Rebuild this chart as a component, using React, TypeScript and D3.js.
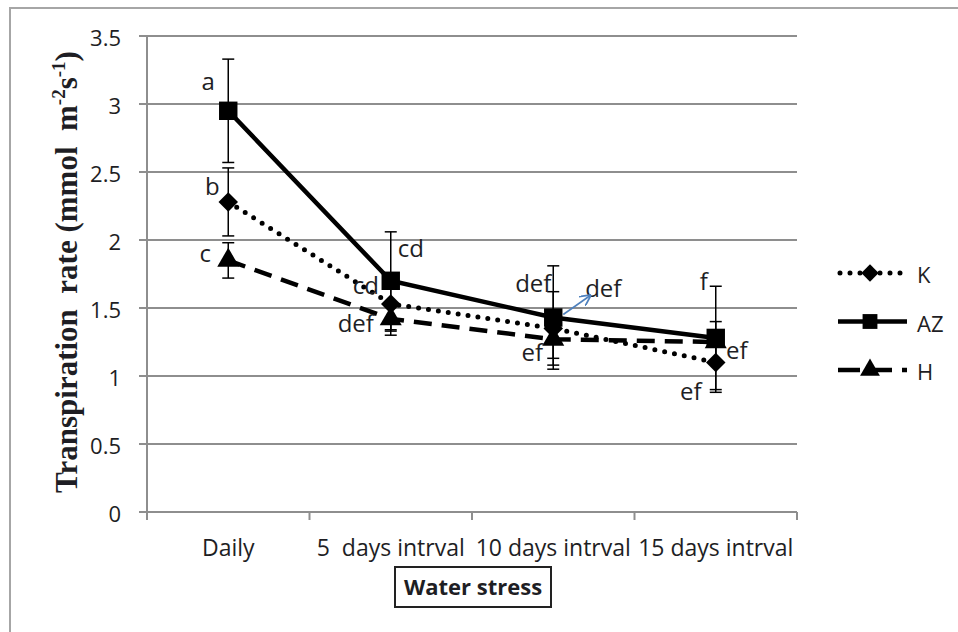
import * as d3 from "d3";

const categories = ["Daily", "5  days intrval", "10 days intrval", "15 days intrval"];
const yTicks = [0, 0.5, 1, 1.5, 2, 2.5, 3, 3.5];

const kValues = [2.28, 1.53, 1.35, 1.1];
const kErrors = [0.25, 0.2, 0.27, 0.22];
const azValues = [2.95, 1.7, 1.43, 1.28];
const azErrors = [0.38, 0.36, 0.38, 0.38];
const hValues = [1.85, 1.42, 1.27, 1.25];
const hErrors = [0.13, 0.12, 0.14, 0.15];

// significance letters: category index, value where the baseline sits, shift in px
const letters = [
  { text: "a", cat: 0, value: 3.1, dx: -20 },
  { text: "b", cat: 0, value: 2.33, dx: -16 },
  { text: "c", cat: 0, value: 1.84, dx: -23 },
  { text: "cd", cat: 1, value: 1.875, dx: 20 },
  { text: "cd", cat: 1, value: 1.6, dx: -25 },
  { text: "def", cat: 1, value: 1.32, dx: -35 },
  { text: "def", cat: 2, value: 1.62, dx: -20 },
  { text: "def", cat: 2, value: 1.58, dx: 50 },
  { text: "ef", cat: 2, value: 1.11, dx: -21 },
  { text: "f", cat: 3, value: 1.63, dx: -12 },
  { text: "ef", cat: 3, value: 1.125, dx: 21 },
  { text: "ef", cat: 3, value: 0.82, dx: -25 },
];

const width = 958;
const height = 632;
const margin = { top: 36, right: 161, bottom: 120, left: 147 };
const textColor = "#1e1e24";
const gridColor = "#8e8e8e";
const font = "'Open Sans', sans-serif";

const x = d3
  .scaleBand<string>()
  .domain(categories)
  .range([margin.left, width - margin.right]);
const y = d3
  .scaleLinear()
  .domain([0, 3.5])
  .range([height - margin.bottom, margin.top]);
const cx = (i: number) => (x(categories[i]) as number) + x.bandwidth() / 2;

const series = [
  { name: "K", values: kValues, errors: kErrors, marker: "diamond", dash: "0 10", cap: "round" },
  { name: "AZ", values: azValues, errors: azErrors, marker: "square", dash: "none", cap: "butt" },
  { name: "H", values: hValues, errors: hErrors, marker: "triangle", dash: "18 10", cap: "butt" },
];

const markerPath = (type: string, size: number) => {
  const sym = type === "triangle" ? d3.symbolTriangle : d3.symbolSquare;
  return d3.symbol().type(sym).size(size)() as string;
};
const markerRotate = (type: string) => (type === "diamond" ? " rotate(45)" : "");

const App = () => {
  const line = d3
    .line<number>()
    .x((_, i) => cx(i))
    .y((d) => y(d));
  const x0 = margin.left;
  const x1 = width - margin.right;
  const yBase = y(0);

  return (
    <svg
      width={width}
      height={height}
      style={{ position: "absolute", left: 0, top: 0, background: "#fff" }}
      fontFamily={font}
    >
      <defs>
        <marker id="arrow" viewBox="0 0 10 10" refX="9" refY="5" markerWidth="7" markerHeight="7" orient="auto">
          <path d="M0,0 L10,5 L0,10" fill="none" stroke="#4f81bd" strokeWidth="1.6" />
        </marker>
      </defs>
      {/* outer frame */}
      <path d={`M10,${height} L10,8 L${width},8`} fill="none" stroke="#a6a6a6" strokeWidth={2} />

      {/* grid */}
      {yTicks.map((t) => (
        <g key={t}>
          <line x1={x0 - 8} x2={x1} y1={y(t)} y2={y(t)} stroke={gridColor} strokeWidth={2} />
          <text x={121} y={y(t) + 1} textAnchor="end" dominantBaseline="central" fontSize={22} fill={textColor}>
            {t}
          </text>
        </g>
      ))}
      <line x1={x0} x2={x0} y1={y(3.5)} y2={yBase + 8} stroke={gridColor} strokeWidth={2} />
      {categories.map((c, i) => (
        <line
          key={"t" + i}
          x1={(x(c) as number) + x.bandwidth()}
          x2={(x(c) as number) + x.bandwidth()}
          y1={yBase}
          y2={yBase + 8}
          stroke={gridColor}
          strokeWidth={2}
        />
      ))}
      {categories.map((c, i) => (
        <text
          key={c}
          x={cx(i)}
          y={556}
          textAnchor="middle"
          fontSize={23}
          fill={textColor}
          style={{ whiteSpace: "pre" }}
        >
          {c}
        </text>
      ))}

      {/* x title box */}
      <rect x={395} y={567} width={156} height={40} fill="#fff" stroke="#222" strokeWidth={2} />
      <text x={473} y={595} textAnchor="middle" fontSize={22} fontWeight="bold" fill={textColor}>
        Water stress
      </text>

      {/* y title */}
      <text
        transform={`translate(77, 272) rotate(-90)`}
        textAnchor="middle"
        fontFamily="'Liberation Serif', serif"
        fontWeight="bold"
        fontSize={31}
        fill={textColor}
        style={{ whiteSpace: "pre" }}
      >
        {"Transpiration  rate (mmol  m"}
        <tspan fontSize={19} dy={-12}>-2</tspan>
        <tspan dy={12}>s</tspan>
        <tspan fontSize={19} dy={-12}>-1</tspan>
        <tspan dy={12}>)</tspan>
      </text>

      {/* lines */}
      {series.map((s) => (
        <path
          key={"l" + s.name}
          d={line(s.values) as string}
          fill="none"
          stroke="#000"
          strokeWidth={s.name === "K" ? 5 : 4.5}
          strokeDasharray={s.dash}
          strokeLinecap={s.cap as any}
        />
      ))}

      {/* error bars */}
      {series.map((s) =>
        s.values.map((v, i) => {
          const top = y(v + s.errors[i]);
          const bot = y(v - s.errors[i]);
          const px = cx(i);
          return (
            <g key={"e" + s.name + i} stroke="#000" strokeWidth={1.5}>
              <line x1={px} x2={px} y1={top} y2={bot} />
              <line x1={px - 6} x2={px + 6} y1={top} y2={top} />
              <line x1={px - 6} x2={px + 6} y1={bot} y2={bot} />
            </g>
          );
        })
      )}

      {/* markers */}
      {series.map((s) =>
        s.values.map((v, i) => (
          <path
            key={"m" + s.name + i}
            d={markerPath(s.marker, s.marker === "square" ? 340 : s.marker === "diamond" ? 190 : 210)}
            transform={`translate(${cx(i)}, ${y(v)})${markerRotate(s.marker)}`}
            fill="#000"
          />
        ))
      )}

      {/* letters */}
      {letters.map((l, i) => (
        <text
          key={"lt" + i}
          x={cx(l.cat) + l.dx}
          y={y(l.value)}
          textAnchor="middle"
          fontSize={24}
          fill={textColor}
        >
          {l.text}
        </text>
      ))}
      <line
        x1={cx(2) + 10}
        y1={y(1.43) - 3}
        x2={cx(2) + 37}
        y2={y(1.43) - 22}
        stroke="#4f81bd"
        strokeWidth={1.6}
        markerEnd="url(#arrow)"
      />

      {/* legend */}
      {series.map((s, i) => {
        const ly = 273 + i * 48.5;
        return (
          <g key={"lg" + s.name}>
            <line
              x1={s.name === "K" ? 840 : 838}
              x2={907}
              y1={ly}
              y2={ly}
              stroke="#000"
              strokeWidth={s.name === "K" ? 5 : 4.5}
              strokeDasharray={s.name === "K" ? "0 10" : s.name === "H" ? "22 10" : "none"}
              strokeLinecap={s.cap as any}
            />
            <path
              d={markerPath(s.marker, s.marker === "square" ? 220 : s.marker === "diamond" ? 150 : 170)}
              transform={`translate(870, ${ly})${markerRotate(s.marker)}`}
              fill="#000"
            />
            <text x={917} y={ly + 1} dominantBaseline="central" fontSize={22} fill={textColor}>
              {s.name}
            </text>
          </g>
        );
      })}
    </svg>
  );
};

export default App;
